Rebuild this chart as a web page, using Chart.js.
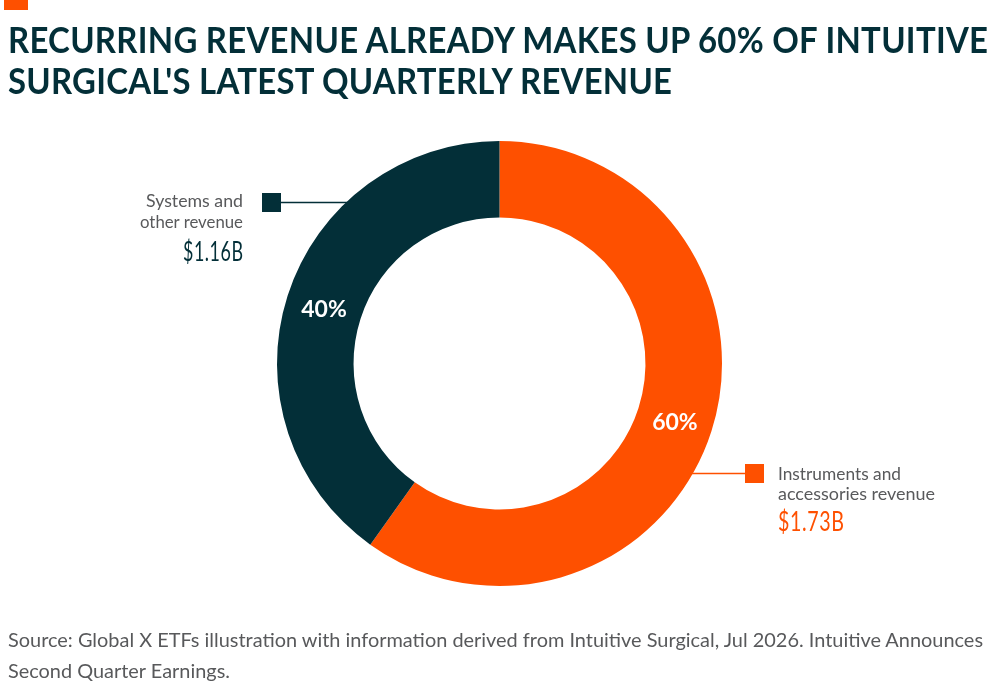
<!DOCTYPE html>
<html>
<head>
<meta charset="utf-8">
<script src="https://cdn.jsdelivr.net/npm/chart.js@4.4.1/dist/chart.umd.min.js"></script>
<style>
  html, body { margin:0; padding:0; background:#fff; }
  #wrap { position:relative; width:1000px; height:686px; overflow:hidden; background:#fff; }
  #c { position:absolute; left:0; top:0; }
  .t { position:absolute; white-space:nowrap; font-family:Lato, "Noto Sans", sans-serif; transform-origin:0 0; }
</style>
</head>
<body>
<div id="wrap">
  <div style="position:absolute;left:4px;top:0;width:24px;height:10px;background:#FE5000"></div>
  <canvas id="c" width="1000" height="686"></canvas>
</div>
<script>
const categories = ["Instruments and accessories revenue", "Systems and other revenue"];
const revenueB = [1.73, 1.16];
const valueLabels = ["$1.73B", "$1.16B"];
const colors = ["#FE5000", "#032F38"];
const titleLines = ["RECURRING REVENUE ALREADY MAKES UP 60% OF INTUITIVE", "SURGICAL'S LATEST QUARTERLY REVENUE"];
const sourceLines = ["Source: Global X ETFs illustration with information derived from Intuitive Surgical, Jul 2026. Intuitive Announces", "Second Quarter Earnings."];

const wrap = document.getElementById('wrap');
function place(text, x, baseline, size, weight, color, target, align, ls) {
  const s = document.createElement('span');
  s.className = 't';
  s.textContent = text;
  s.style.fontSize = size + 'px';
  s.style.fontWeight = weight;
  s.style.color = color;
  s.style.lineHeight = (size * 1.2) + 'px';
  s.style.top = (baseline - 0.987 * size) + 'px';
  s.style.left = '0px';
  if (ls) s.style.letterSpacing = ls + 'px';
  wrap.appendChild(s);
  const w = s.getBoundingClientRect().width - (ls || 0);
  let width = w;
  if (target) {
    s.style.transform = 'scaleX(' + (target / w) + ')';
    width = target;
  }
  let left = x;
  if (align === 'right') left = x - width;
  if (align === 'center') left = x - width / 2;
  s.style.left = left + 'px';
  return s;
}

// Title
place(titleLines[0], 8, 54, 37, 700, '#032F38', 980, null, 0.3);
place(titleLines[1], 8, 95, 37, 700, '#032F38', 664, null, 0.3);
// Source
place(sourceLines[0], 8, 647, 20, 400, '#58595B', 975);
place(sourceLines[1], 8, 678, 20, 400, '#58595B', 222);
// Legend callouts
place("Systems and", 243, 208, 18, 400, '#58595B', 97, 'right');
place("other revenue", 243, 229, 18, 400, '#58595B', 103, 'right');
place(valueLabels[1], 243, 262, 26, 400, colors[1], 60, 'right', 0.8);
place("Instruments and", 778, 481, 18, 400, '#58595B', 123);
place("accessories revenue", 778, 501, 18, 400, '#58595B', 157);
place(valueLabels[0], 778, 532, 26, 400, colors[0], 66, null, 0.8);

const leaders = {
  id: 'leaders',
  beforeDatasetsDraw(chart) {
    const ctx = chart.ctx;
    const arc = chart.getDatasetMeta(0).data[0];
    const cx = arc.x, cy = arc.y, R = arc.outerRadius;
    ctx.save();
    ctx.lineWidth = 1.5;
    // dark callout
    let y = 202.5;
    let ex = cx - Math.sqrt(R * R - (cy - y) * (cy - y)) + 2;
    ctx.strokeStyle = colors[1];
    ctx.beginPath(); ctx.moveTo(281, y); ctx.lineTo(ex, y); ctx.stroke();
    ctx.fillStyle = colors[1];
    ctx.fillRect(262, 193, 19, 19);
    // orange callout
    y = 473.5;
    ex = cx + Math.sqrt(R * R - (cy - y) * (cy - y)) - 2;
    ctx.strokeStyle = colors[0];
    ctx.beginPath(); ctx.moveTo(ex, y); ctx.lineTo(745, y); ctx.stroke();
    ctx.fillStyle = colors[0];
    ctx.fillRect(745, 464, 19, 19);
    ctx.restore();
  }
};

const chart = new Chart(document.getElementById('c'), {
  type: 'doughnut',
  data: {
    labels: categories,
    datasets: [{ data: revenueB, backgroundColor: colors, borderWidth: 0, hoverOffset: 0 }]
  },
  options: {
    responsive: false,
    animation: false,
    cutout: '65.6%',
    layout: { padding: { left: 277, right: 278, top: 141, bottom: 100 } },
    plugins: { legend: { display: false }, tooltip: { enabled: false } },
    events: []
  },
  plugins: [leaders]
});

const total = revenueB.reduce((a, b) => a + b, 0);
chart.getDatasetMeta(0).data.forEach((el, i) => {
  const p = el.getCenterPoint();
  const pct = Math.round(revenueB[i] / total * 100) + '%';
  const size = 23;
  place(pct, p.x, p.y + 0.36 * size + 2.5, size, 700, '#ffffff', null, 'center');
});
</script>
</body>
</html>
